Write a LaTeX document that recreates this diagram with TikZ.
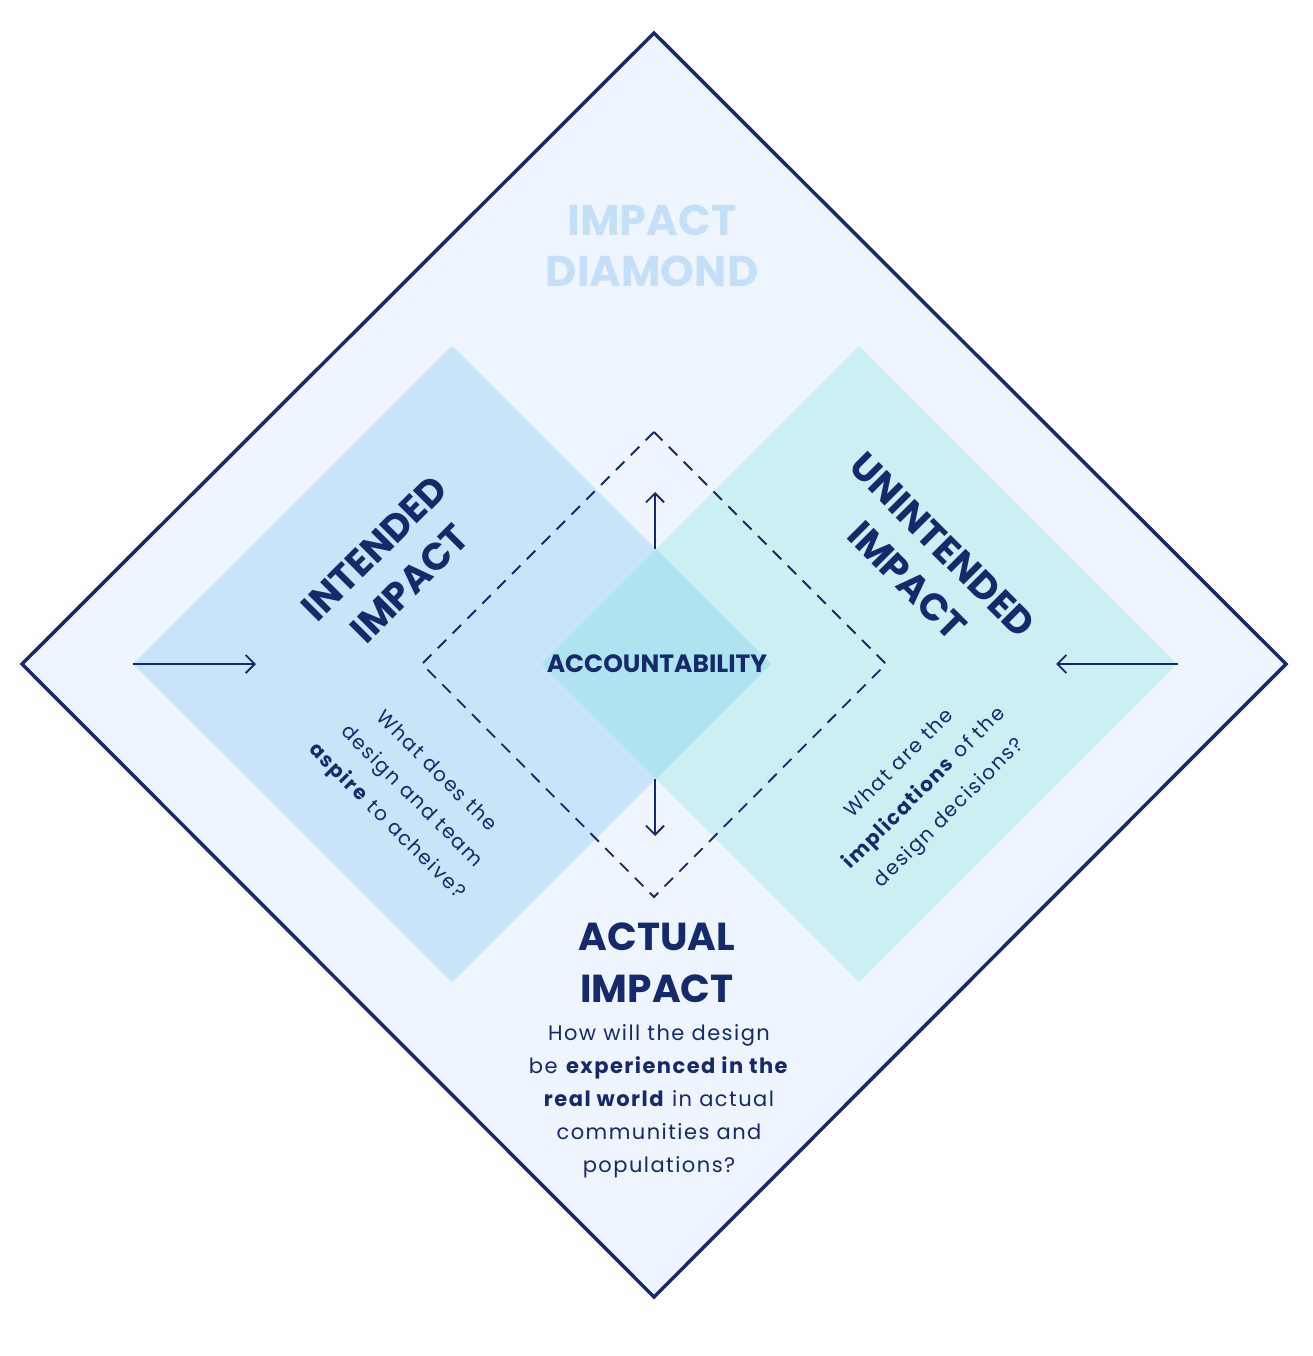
\documentclass[tikz,border=0pt]{standalone}
\usepackage{fontspec}
\setmainfont{Poppins}
\usetikzlibrary{arrows.meta}
\definecolor{navy}{HTML}{15296B}
\definecolor{bgfill}{HTML}{EEF5FE}
\definecolor{leftfill}{HTML}{C8E4F9}
\definecolor{rightfill}{HTML}{CCEFF3}
\definecolor{midfill}{HTML}{AFE3F0}
\definecolor{titlecol}{HTML}{C4DFF8}
\tikzset{
  conn/.style={draw=navy, line width=1.8pt, -{Straight Barb[length=9pt,width=18pt,line width=1.8pt]}},
  heading/.style={text=navy, font=\bfseries\fontsize{38}{50}\selectfont, align=center, inner sep=0pt},
  bodytext/.style={text=navy, font=\fontsize{21}{33}\selectfont\addfontfeature{LetterSpace=7}, align=center, inner sep=0pt},
}
\begin{document}
\begin{tikzpicture}[x=1pt,y=-1pt]
\useasboundingbox[fill=white] (0,0) rectangle (1312,1356);
% outer diamond
\draw[navy, line width=3.5pt, fill=bgfill, line join=miter]
  (654,33) -- (1286,664) -- (654,1297) -- (22,664) -- cycle;
% left and right squares
\fill[leftfill] (452,346) -- (771,664) -- (452,982) -- (133,664) -- cycle;
\fill[rightfill] (859,346) -- (1177,664) -- (859,982) -- (541,664) -- cycle;
\fill[midfill] (656,549) -- (771,664) -- (656,779) -- (541,664) -- cycle;
% dashed diamond
\draw[navy, line width=1.8pt, dash pattern=on 12pt off 9pt]
  (654,432) -- (886,664) -- (654,897) -- (422,664) -- cycle;
% arrow end points
\coordinate (la0) at (133,664); \coordinate (la1) at (256,664);
\coordinate (ra0) at (1178,664); \coordinate (ra1) at (1056,664);
\coordinate (ua0) at (655,549); \coordinate (ua1) at (655,492);
\coordinate (da0) at (655,779); \coordinate (da1) at (655,836);
\draw[conn] (la0) -- (la1);
\draw[conn] (ra0) -- (ra1);
\draw[conn] (ua0) -- (ua1);
\draw[conn] (da0) -- (da1);
% texts
\node[heading, text=titlecol, font=\bfseries\fontsize{43}{51}\selectfont] (title) at (652,246) {IMPACT\\DIAMOND};
\node[heading, font=\bfseries\fontsize{25}{26}\selectfont] (acc) at (657,664) {ACCOUNTABILITY};
\node[heading, rotate=45] (intended) at (392,566) {INTENDED\\IMPACT};
\node[heading, rotate=-45] (unintended) at (925,563) {UNINTENDED\\IMPACT};
\node[heading, font=\bfseries\fontsize{39}{52}\selectfont] (actual) at (657,963) {ACTUAL\\IMPACT};
\node[bodytext] (actualtxt) at (659,1101) {How will the design\\be \textbf{experienced in the}\\\textbf{real world} in actual\\communities and\\populations?};
\node[bodytext, font=\fontsize{20}{35}\selectfont\addfontfeature{LetterSpace=8}, rotate=-45] (intendedtxt) at (411,797) {What does the\\design and team\\\textbf{aspire} to acheive?};
\node[bodytext, font=\fontsize{20}{35}\selectfont\addfontfeature{LetterSpace=8}, rotate=45] (unintendedtxt) at (925,789) {What are the\\\textbf{implications} of the\\design decisions?};
\end{tikzpicture}
\end{document}
